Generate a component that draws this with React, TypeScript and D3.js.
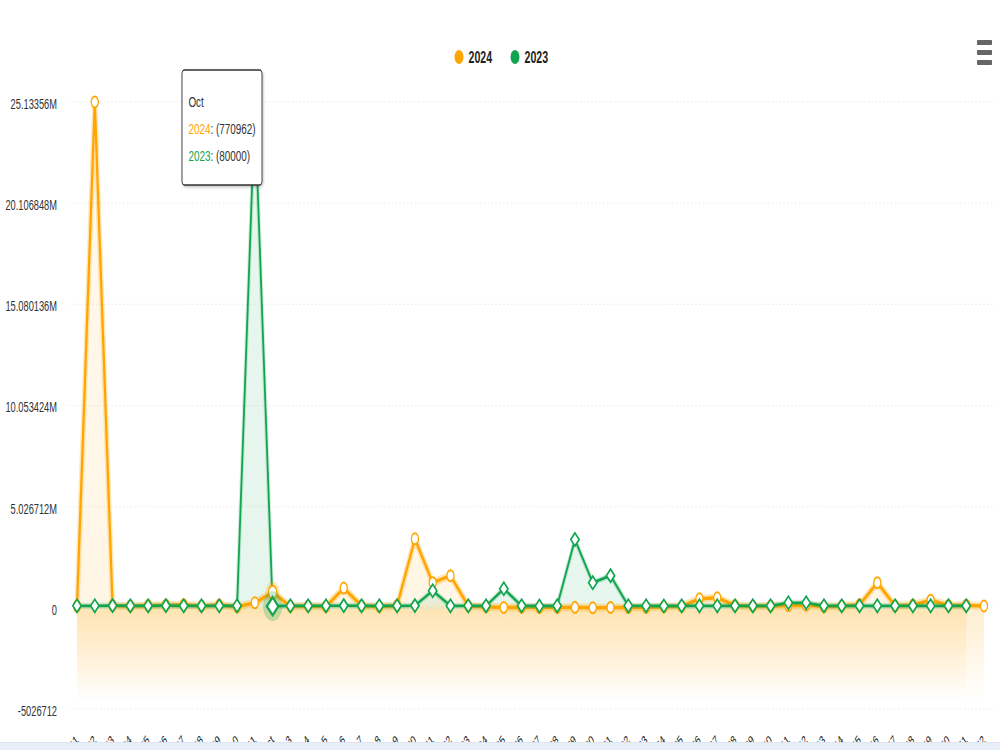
import React from "react";
import * as d3 from "d3";

const categories: string[] = [
  "A01","A02","A03","A04","A05","A06","A07","A08","A09","A10","A11","Oct","A13","A14","A15","A16","A17","A18","A19","A20","A21","A22","A23","A24","A25","A26",
  "A27","A28","A29","A30","A31","A32","A33","A34","A35","A36","A37","A38","A39","A40","A41","A42","A43","A44","A45","A46","A47","A48","A49","A50","A51","A52",
];

const series2024: number[] = [
  85000, 25133560, 120000, 95000, 110000, 130000, 150000, 90000, 140000, 50000,
  250000, 770962, 80000, 90000, 70000, 980000, 100000, 60000, 120000, 3430000,
  1250000, 1600000, 90000, 60000, 20000, 30000, 15000, 20000, 25000, 10000,
  20000, 15000, 20000, 60000, 80000, 450000, 500000, 120000, 80000, 90000,
  110000, 130000, 60000, 90000, 150000, 1250000, 100000, 140000, 380000, 120000,
  130000, 90000,
];

const series2023: number[] = [
  100000, 100000, 110000, 100000, 100000, 110000, 100000, 100000, 100000, 100000,
  24800000, 80000, 100000, 100000, 100000, 110000, 100000, 100000, 100000, 110000,
  850000, 100000, 100000, 100000, 950000, 100000, 90000, 100000, 3400000, 1250000,
  1600000, 100000, 100000, 90000, 100000, 100000, 100000, 100000, 100000, 100000,
  250000, 250000, 100000, 100000, 100000, 100000, 100000, 100000, 100000, 100000,
  100000,
];

const yTicks: number[] = [-5026712, 0, 5026712, 10053424, 15080136, 20106848, 25133560];
const yTickLabels: string[] = ["-5026712", "0", "5.026712M", "10.053424M", "15.080136M", "20.106848M", "25.13356M"];

const seriesNames: string[] = ["2024", "2023"];
const seriesColors: string[] = ["#ffa500", "#12a550"];

const hoverIndex = 11;
const tooltipHeader = "Oct";

const SX = 0.64;
const FONT = "'Liberation Sans', Arial, Helvetica, sans-serif";

export default function App() {
  const plotLeft = 68.1 / SX;
  const plotRight = 992.9 / SX;
  const plotTop = 102;
  const plotBottom = 709;
  const fillBottom = 702;

  const x = d3.scaleBand<string>().domain(categories).range([plotLeft, plotRight]);
  const cx = (i: number) => (x(categories[i]) as number) + x.bandwidth() / 2;
  const y = d3.scaleLinear().domain([yTicks[0], yTicks[yTicks.length - 1]]).range([plotBottom, plotTop]);

  const line = d3.line<number>().x((_, i) => cx(i)).y((d) => y(d));
  const area = d3.area<number>().x((_, i) => cx(i)).y0(fillBottom).y1((d) => y(d));

  const zeroY = y(0);
  const diamond = (px: number, py: number, r: number) =>
    `M${px},${py - r}L${px + r},${py}L${px},${py + r}L${px - r},${py}Z`;

  const tipX = 182 / SX;
  const tipW = 80 / SX;
  const tipY = 70;
  const tipH = 115;

  return (
    <svg width={1000} height={750} style={{ position: "fixed", left: 0, top: 0, background: "#fff" }}>
      <defs>
        <linearGradient id="gO" gradientUnits="userSpaceOnUse" x1="0" y1={plotTop} x2="0" y2={fillBottom}>
          <stop offset="0" stopColor="#ffa500" stopOpacity="0.07" />
          <stop offset={(zeroY - 6 - plotTop) / (fillBottom - plotTop)} stopColor="#ffa500" stopOpacity="0.1" />
          <stop offset={(zeroY + 4 - plotTop) / (fillBottom - plotTop)} stopColor="#ffa500" stopOpacity="0.18" />
          <stop offset="1" stopColor="#ffa500" stopOpacity="0" />
        </linearGradient>
        <linearGradient id="gG" gradientUnits="userSpaceOnUse" x1="0" y1={plotTop} x2="0" y2={fillBottom}>
          <stop offset="0" stopColor="#12a550" stopOpacity="0.1" />
          <stop offset={(zeroY - 6 - plotTop) / (fillBottom - plotTop)} stopColor="#12a550" stopOpacity="0.1" />
          <stop offset={(zeroY + 4 - plotTop) / (fillBottom - plotTop)} stopColor="#ffb020" stopOpacity="0.16" />
          <stop offset="1" stopColor="#ffb020" stopOpacity="0" />
        </linearGradient>
        <filter id="sh" x="-20%" y="-20%" width="150%" height="150%">
          <feDropShadow dx="1.5" dy="1.5" stdDeviation="1.5" floodColor="#000" floodOpacity="0.25" />
        </filter>
      </defs>

      <g transform={`scale(${SX},1)`}>
        {/* grid */}
        {yTicks.map((t, k) => (
          <g key={k}>
            <line x1={plotLeft + 2} x2={plotRight + 4} y1={y(t)} y2={y(t)} stroke="#d8d8d8" strokeWidth={1} strokeDasharray="1.5,4.5" />
            <text x={57 / SX} y={y(t) + 7} textAnchor="end" fontFamily={FONT} fontSize={14.5} fill="#333">
              {yTickLabels[k]}
            </text>
          </g>
        ))}

        {/* areas */}
        <path d={area(series2024) || ""} fill="url(#gO)" />
        <path d={area(series2023) || ""} fill="url(#gG)" />

        {/* lines */}
        <path d={line(series2024) || ""} fill="none" stroke="#ffa500" strokeOpacity={0.28} strokeWidth={8} strokeLinejoin="round" />
        <path d={line(series2024) || ""} fill="none" stroke="#ffa500" strokeWidth={3.5} strokeLinejoin="round" />
        <path d={line(series2023) || ""} fill="none" stroke="#12a550" strokeOpacity={0.2} strokeWidth={6} strokeLinejoin="round" />
        <path d={line(series2023) || ""} fill="none" stroke="#12a550" strokeWidth={2.8} strokeLinejoin="round" />

        {/* markers */}
        {series2024.map((v, i) => (
          <ellipse key={"o" + i} cx={cx(i)} cy={y(v)} rx={5.5} ry={5.5} fill="#fff" stroke="#ffa500" strokeWidth={2} />
        ))}
        {series2023.map((v, i) =>
          i === hoverIndex ? null : (
            <path key={"g" + i} d={diamond(cx(i), y(v), 6.5)} fill="#fff" stroke="#12a550" strokeWidth={2.2} />
          )
        )}

        {/* hover */}
        <circle cx={cx(hoverIndex)} cy={y(series2024[hoverIndex])} r={11} fill="#ffa500" fillOpacity={0.25} />
        <ellipse cx={cx(hoverIndex)} cy={y(series2024[hoverIndex])} rx={6.5} ry={6.5} fill="#fff" stroke="#ffa500" strokeWidth={2} />
        <circle cx={cx(hoverIndex)} cy={y(series2023[hoverIndex])} r={15} fill="#12a550" fillOpacity={0.25} />
        <path d={diamond(cx(hoverIndex), y(series2023[hoverIndex]), 9)} fill="#fff" stroke="#12a550" strokeWidth={3} />

        {/* x labels (mostly clipped, as in the reference) */}
        {categories.map((c, i) => (
          <text
            key={"x" + i}
            transform={`translate(${cx(i) + 3},${741}) rotate(-45)`}
            textAnchor="end"
            fontFamily={FONT}
            fontSize={13}
            fill="#222"
          >
            {c}
          </text>
        ))}

        {/* legend */}
        {seriesNames.map((n, k) => {
          const lx = (k === 0 ? 459 : 515) / SX;
          return (
            <g key={n}>
              <circle cx={lx} cy={57} r={7} fill={seriesColors[k]} />
              <text x={lx + 15} y={63} fontFamily={FONT} fontSize={16.5} fontWeight="bold" fill="#222">
                {n}
              </text>
            </g>
          );
        })}

        {/* menu */}
        {[40, 50, 60].map((yy) => (
          <rect key={yy} x={977 / SX} y={yy} width={15 / SX} height={5} rx={1} fill="#666" />
        ))}

        {/* tooltip */}
        <g filter="url(#sh)">
          <rect x={tipX} y={tipY} width={tipW} height={tipH} rx={4} fill="#fff" stroke="#333" strokeWidth={1.4} />
        </g>
        <text x={tipX + 10} y={107} fontFamily={FONT} fontSize={15.5} fill="#333">{tooltipHeader}</text>
        <text x={tipX + 10} y={134} fontFamily={FONT} fontSize={15.5} fill="#333">
          <tspan fill="#ffa500">{seriesNames[0]}</tspan>
          <tspan>{`: (${series2024[hoverIndex]})`}</tspan>
        </text>
        <text x={tipX + 10} y={161} fontFamily={FONT} fontSize={15.5} fill="#333">
          <tspan fill="#12a550">{seriesNames[1]}</tspan>
          <tspan>{`: (${series2023[hoverIndex]})`}</tspan>
        </text>
      </g>

      <rect x={0} y={742} width={1000} height={8} fill="#e9eef8" />
      <line x1={0} x2={1000} y1={742.5} y2={742.5} stroke="#dce4f2" />
    </svg>
  );
}
